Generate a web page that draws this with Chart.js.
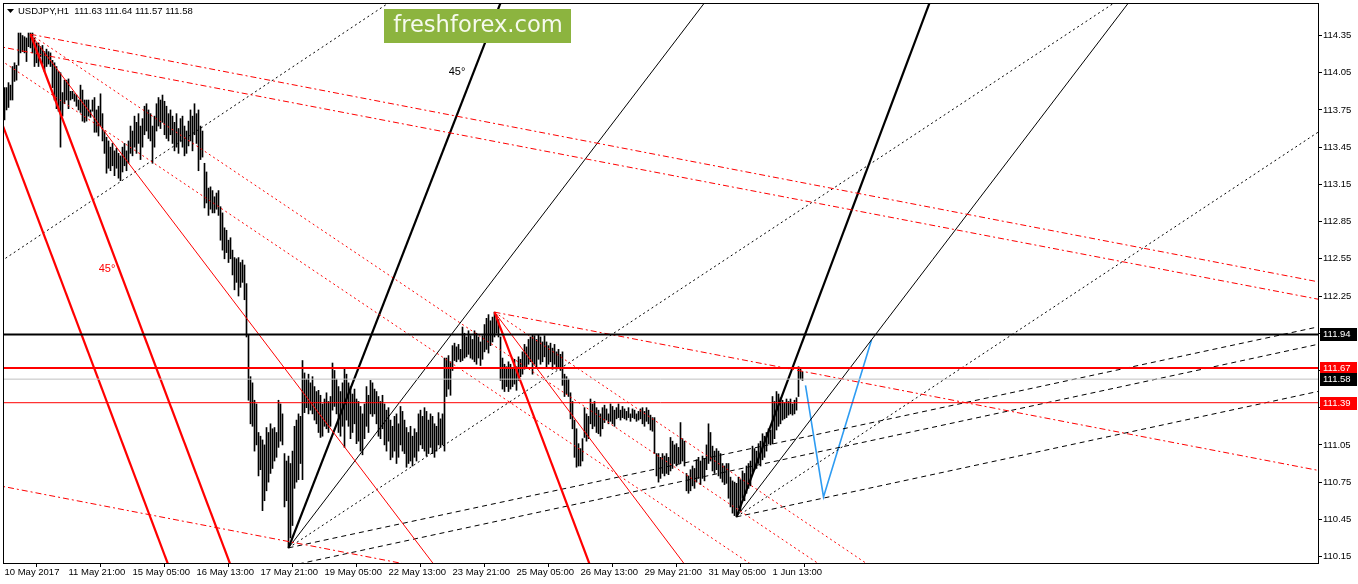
<!DOCTYPE html>
<html>
<head>
<meta charset="utf-8">
<script src="https://cdn.jsdelivr.net/npm/chart.js@4.4.1/dist/chart.umd.min.js"></script>
<style>
  html, body { margin: 0; padding: 0; background: #fff; }
  #wrap { width: 1358px; height: 584px; }
</style>
</head>
<body>
<div id="wrap"><canvas id="chart" width="1358" height="584"></canvas></div>
<script>
// --- DATA (USDJPY H1) ---

const timeTicks = [0, 32, 64, 96, 128, 160, 192, 224, 256, 288, 320, 352, 384];
const timeLabels = ['10 May 2017', '11 May 21:00', '15 May 05:00', '16 May 13:00', '17 May 21:00',
    '19 May 05:00', '22 May 13:00', '23 May 21:00', '25 May 05:00', '26 May 13:00',
    '29 May 21:00', '31 May 05:00', '1 Jun 13:00'];
const priceTicks = [110.15, 110.45, 110.75, 111.05, 111.35, 111.65, 111.95, 112.25,
    112.55, 112.85, 113.15, 113.45, 113.75, 114.05, 114.35];

const barHigh = [
    113.93,113.93,113.97,113.95,114.10,114.13,114.11,114.37,114.37,114.35,
    114.34,114.33,114.37,114.37,114.37,114.33,114.29,114.29,114.26,114.27,
    114.22,114.24,114.22,114.21,114.15,114.13,114.10,114.06,114.05,113.89,
    113.99,113.99,114.00,113.90,113.90,113.88,113.87,113.83,113.95,113.91,
    113.83,113.83,113.83,113.75,113.83,113.85,113.75,113.78,113.88,113.72,
    113.58,113.53,113.50,113.45,113.48,113.42,113.44,113.40,113.38,113.45,
    113.48,113.42,113.50,113.62,113.58,113.70,113.65,113.72,113.62,113.68,
    113.78,113.80,113.75,113.72,113.62,113.70,113.80,113.85,113.83,113.87,
    113.82,113.78,113.72,113.75,113.70,113.65,113.72,113.60,113.68,113.70,
    113.62,113.58,113.66,113.75,113.70,113.80,113.72,113.75,113.62,113.58,
    113.32,113.25,113.12,113.13,113.10,113.05,113.08,113.10,112.97,112.92,
    112.80,112.78,112.70,112.72,112.62,112.56,112.55,112.56,112.52,112.54,
    112.50,112.35,111.94,111.60,111.55,111.41,111.38,111.15,111.12,111.09,
    111.05,111.19,111.15,111.22,111.18,111.19,111.15,111.41,111.38,111.30,
    110.98,110.92,110.96,110.90,111.00,111.20,111.25,111.30,111.28,111.73,
    111.63,111.58,111.62,111.55,111.60,111.52,111.48,111.49,111.45,111.38,
    111.42,111.47,111.40,111.44,111.71,111.65,111.58,111.52,111.48,111.55,
    111.67,111.62,111.55,111.52,111.46,111.50,111.42,111.40,111.36,111.30,
    111.38,111.52,111.45,111.57,111.55,111.50,111.48,111.44,111.40,111.45,
    111.38,111.33,111.35,111.25,111.20,111.28,111.30,111.22,111.36,111.32,
    111.25,111.19,111.15,111.20,111.12,111.18,111.15,111.30,111.33,111.28,
    111.35,111.32,111.25,111.30,111.28,111.22,111.20,111.31,111.26,111.30,
    111.75,111.75,111.77,111.72,111.85,111.87,111.84,111.86,111.82,112.00,
    111.95,111.92,111.97,111.93,111.90,111.97,111.95,111.92,111.88,111.93,
    112.02,112.07,112.10,112.05,112.08,112.12,112.10,112.06,111.92,111.75,
    111.70,111.68,111.72,111.70,111.66,111.74,111.68,111.76,111.74,111.80,
    111.86,111.84,111.90,111.92,111.94,111.93,111.90,111.94,111.92,111.88,
    111.93,111.88,111.85,111.87,111.83,111.86,111.80,111.82,111.78,111.80,
    111.62,111.60,111.58,111.47,111.40,111.25,111.18,111.06,111.02,111.10,
    111.35,111.30,111.28,111.42,111.38,111.40,111.35,111.33,111.30,111.35,
    111.37,111.34,111.30,111.38,111.36,111.33,111.35,111.38,111.33,111.36,
    111.34,111.32,111.35,111.30,111.34,111.33,111.30,111.32,111.34,111.35,
    111.32,111.35,111.33,111.29,111.27,111.27,110.98,110.98,110.95,110.98,
    110.96,110.98,110.95,111.11,111.08,111.05,111.06,111.03,111.23,111.10,
    111.08,110.82,110.80,110.85,110.88,110.86,110.93,110.95,110.92,110.96,
    110.94,111.05,111.22,111.15,111.04,111.00,111.02,111.00,110.98,110.90,
    110.88,110.90,110.90,110.79,110.76,110.75,110.74,110.79,110.77,110.84,
    110.82,110.88,110.90,110.92,111.04,111.02,111.00,111.06,111.08,111.14,
    111.12,111.15,111.18,111.17,111.44,111.40,111.48,111.46,111.43,111.41,
    111.39,111.42,111.40,111.42,111.38,111.41,111.43,111.68,111.67,111.64
];
const barLow = [
    113.67,113.75,113.77,113.83,113.83,113.98,113.99,114.11,114.21,114.22,
    114.21,114.14,114.26,114.25,114.21,114.10,114.13,114.10,114.18,114.12,
    114.06,114.10,114.12,114.10,113.93,113.83,113.76,113.74,113.45,113.70,
    113.80,113.83,113.76,113.83,113.84,113.82,113.78,113.75,113.73,113.66,
    113.65,113.66,113.70,113.69,113.74,113.57,113.57,113.54,113.62,113.50,
    113.40,113.24,113.28,113.26,113.30,113.22,113.28,113.20,113.18,113.25,
    113.30,113.26,113.32,113.40,113.38,113.45,113.40,113.48,113.35,113.45,
    113.55,113.58,113.52,113.50,113.32,113.45,113.58,113.62,113.60,113.65,
    113.55,113.52,113.50,113.55,113.48,113.42,113.45,113.40,113.50,113.45,
    113.38,113.40,113.46,113.50,113.42,113.55,113.48,113.26,113.35,113.37,
    112.96,113.00,112.90,112.95,112.92,112.92,112.95,112.90,112.70,112.62,
    112.55,112.60,112.52,112.55,112.42,112.30,112.36,112.25,112.32,112.36,
    112.22,111.92,111.41,111.22,111.20,111.00,111.05,110.80,110.85,110.52,
    110.60,110.68,110.75,110.82,110.86,110.92,110.95,111.03,111.08,111.05,
    110.55,110.60,110.22,110.30,110.40,110.70,110.75,110.77,110.90,110.77,
    111.31,111.35,111.30,111.33,111.30,111.25,111.22,111.15,111.11,111.12,
    111.20,111.18,111.15,111.20,111.33,111.36,111.30,111.15,111.12,111.20,
    111.03,111.25,111.20,111.10,111.15,111.22,111.06,111.08,111.00,110.97,
    111.10,111.20,111.15,111.30,111.28,111.30,111.22,111.12,111.10,111.18,
    111.05,111.00,111.08,110.93,110.95,111.00,110.90,110.95,111.05,111.00,
    110.98,110.87,110.90,110.92,110.88,110.95,110.92,111.00,111.05,111.02,
    111.00,110.96,110.98,111.03,110.98,110.95,111.00,111.05,111.03,111.05,
    111.00,111.44,111.50,111.45,111.65,111.73,111.72,111.74,111.72,111.73,
    111.75,111.76,111.78,111.75,111.74,111.72,111.70,111.75,111.69,111.74,
    111.80,111.82,111.79,111.85,111.88,111.92,111.95,111.92,111.57,111.50,
    111.48,111.52,111.48,111.50,111.52,111.54,111.49,111.57,111.60,111.62,
    111.66,111.68,111.70,111.72,111.62,111.70,111.68,111.74,111.70,111.72,
    111.76,111.68,111.70,111.72,111.66,111.70,111.66,111.68,111.65,111.53,
    111.44,111.46,111.44,111.26,111.18,110.95,110.87,110.88,110.88,110.92,
    111.11,111.08,111.10,111.22,111.18,111.20,111.15,111.14,111.12,111.18,
    111.23,111.25,111.22,111.24,111.22,111.20,111.26,111.27,111.25,111.27,
    111.26,111.25,111.27,111.24,111.27,111.26,111.24,111.25,111.26,111.22,
    111.20,111.24,111.22,111.17,111.16,110.98,110.80,110.75,110.78,110.82,
    110.80,110.82,110.81,110.84,110.86,110.90,110.88,110.90,110.90,110.92,
    110.88,110.68,110.66,110.68,110.72,110.70,110.75,110.78,110.73,110.78,
    110.76,110.85,110.90,110.92,110.84,110.82,110.85,110.80,110.78,110.75,
    110.73,110.74,110.62,110.55,110.50,110.48,110.47,110.54,110.52,110.62,
    110.60,110.66,110.70,110.72,110.83,110.85,110.86,110.90,110.88,110.93,
    110.95,111.00,111.06,111.05,111.06,111.10,111.17,111.20,111.22,111.25,
    111.26,111.27,111.29,111.30,111.29,111.30,111.33,111.44,111.58,111.57
];

// horizontal levels: [price, colour, width]
const levelPrices = [111.94, 111.67, 111.58, 111.39];
const levelColors = ['#000000', '#ff0000', '#c0c0c0', '#ff0000'];
const levelWidths = [2, 2, 1, 1];

// trend lines as [barIndex, price] pairs
const redThick = [
    [[-12, 114.10], [88.5, 109.80]],
    [[13, 114.36], [119.6, 109.80]],
    [[245, 112.12], [299.3, 109.80]]
];
const redThin = [
    [[13, 114.36], [228.2, 109.80]],
    [[245, 112.12], [353.5, 109.80]]
];
const redDotted = [
    [[13, 114.36], [434, 109.80]],
    [[-12, 114.26], [399.8, 109.80]],
    [[245, 112.12], [458, 109.80]]
];
const redDashDot = [
    [[13, 114.36], [668, 112.33]],
    [[-12, 114.29], [668, 112.19]],
    [[-12, 110.75], [293.5, 109.80]],
    [[245, 112.12], [668, 110.81]]
];
const blackThick = [
    [[142, 110.22], [256.4, 114.96]],
    [[366, 110.47], [470.6, 114.96]]
];
const blackThin = [
    [[142, 110.22], [366.4, 114.96]],
    [[366, 110.47], [578.4, 114.96]]
];
const blackDotted = [
    [[142, 110.22], [587.5, 114.96]],
    [[366, 110.47], [668, 113.69]],
    [[-12, 112.42], [224.4, 114.96]]
];
const blackDashed = [
    [[142, 110.22], [668, 112.04]],
    [[63.5, 109.80], [668, 111.90]],
    [[366, 110.47], [668, 111.52]]
];
const blueForecast = [[400.5, 111.53], [409.5, 110.63], [433.5, 111.895]];

const lastQuote = ['111.63', '111.64', '111.57', '111.58'];

// --- BUILD DATASETS ---

const FONT = '"Liberation Sans", Arial, sans-serif';

function segmentSets(group, color, width, dash) {
    return group.map(seg => ({
        type: 'line',
        data: seg.map(p => ({ x: p[0], y: p[1] })),
        borderColor: color,
        borderWidth: width,
        borderDash: dash,
        pointRadius: 0,
        fill: false,
        tension: 0,
        order: 1
    }));
}

const datasets = [{
    type: 'bar',
    data: barHigh.map((h, i) => ({ x: i, y: [barLow[i], h] })),
    backgroundColor: '#000000',
    borderWidth: 0,
    barThickness: 1,
    order: 10
}];

levelPrices.forEach((p, k) => {
    datasets.push(...segmentSets([[[-12, p], [668, p]]], levelColors[k], levelWidths[k], []));
});
datasets.push(...segmentSets(redThick, '#ff0000', 2.2, []));
datasets.push(...segmentSets(redThin, '#ff0000', 1, []));
datasets.push(...segmentSets(redDotted, '#ff0000', 1, [2, 3]));
datasets.push(...segmentSets(redDashDot, '#ff0000', 1, [6, 3, 2, 3]));
datasets.push(...segmentSets(blackThick, '#000000', 2.2, []));
datasets.push(...segmentSets(blackThin, '#000000', 1, []));
datasets.push(...segmentSets(blackDotted, '#000000', 1, [2, 3]));
datasets.push(...segmentSets(blackDashed, '#000000', 1, [5, 4]));
datasets.push(...segmentSets([blueForecast], '#2e9cf2', 1.6, []));

// --- DECORATION PLUGIN ---

const decorations = {
    id: 'decorations',
    afterDraw(chart) {
        const ctx = chart.ctx;
        const a = chart.chartArea;
        const y = chart.scales.y;
        const x = chart.scales.x;
        ctx.save();

        // frame
        ctx.strokeStyle = '#000';
        ctx.lineWidth = 1;
        ctx.setLineDash([]);
        ctx.strokeRect(a.left + 0.5, a.top + 0.5, a.right - a.left, a.bottom - a.top);

        // symbol line
        ctx.fillStyle = '#000';
        ctx.beginPath();
        ctx.moveTo(7, 9); ctx.lineTo(14, 9); ctx.lineTo(10.5, 13); ctx.closePath();
        ctx.fill();
        ctx.font = '9.5px ' + FONT;
        ctx.textBaseline = 'middle';
        ctx.textAlign = 'left';
        ctx.fillText('USDJPY,H1  ' + lastQuote.join(' '), 18, 11.5);

        // logo
        ctx.fillStyle = '#8cb43f';
        ctx.fillRect(384, 9, 187, 34);
        let size = 26;
        ctx.font = size + 'px "DejaVu Sans", sans-serif';
        size = size * 170 / ctx.measureText('freshforex.com').width;
        ctx.font = size.toFixed(1) + 'px "DejaVu Sans", sans-serif';
        ctx.fillStyle = '#f6faee';
        ctx.textAlign = 'center';
        ctx.fillText('freshforex.com', 478, 26.5);

        // 45 degree marks
        ctx.font = '11px ' + FONT;
        ctx.fillStyle = '#ff0000';
        ctx.fillText('45°', 107, 269);
        ctx.fillStyle = '#000000';
        ctx.fillText('45°', 457, 72);

        // price tags on the axis
        const tagColors = ['#000000', '#ff0000', '#000000', '#ff0000'];
        const tagOrder = [0, 1, 3, 2];
        ctx.font = '9.5px ' + FONT;
        ctx.textAlign = 'left';
        tagOrder.forEach(k => {
            const py = Math.round(y.getPixelForValue(levelPrices[k]));
            ctx.fillStyle = tagColors[k];
            ctx.fillRect(a.right + 2, py - 6, 37, 13);
            ctx.fillStyle = '#ffffff';
            ctx.fillText(levelPrices[k].toFixed(2), a.right + 5, py + 0.5);
        });
        ctx.restore();
    }
};

new Chart(document.getElementById('chart'), {
    type: 'bar',
    data: { datasets },
    options: {
        responsive: false,
        animation: false,
        devicePixelRatio: 1,
        layout: { padding: { left: 3, top: 3, right: 0, bottom: 0 } },
        plugins: { legend: { display: false }, tooltip: { enabled: false } },
        scales: {
            x: {
                type: 'linear',
                min: -0.75,
                max: 656.75,
                offset: false,
                border: { display: false },
                grid: { drawOnChartArea: false, color: '#000', tickLength: 4 },
                afterBuildTicks: s => { s.ticks = timeTicks.map(v => ({ value: v })); },
                afterFit: s => { s.height = 21; s.paddingLeft = 0; s.paddingRight = 0; },
                ticks: {
                    autoSkip: false,
                    maxRotation: 0,
                    minRotation: 0,
                    align: 'start',
                    padding: 0,
                    color: '#000',
                    font: { family: FONT, size: 9.5 },
                    callback: v => timeLabels[timeTicks.indexOf(v)]
                }
            },
            y: {
                type: 'linear',
                position: 'right',
                min: 110.098,
                max: 114.612,
                border: { display: false },
                grid: { drawOnChartArea: false, color: '#000', tickLength: 4 },
                afterBuildTicks: s => { s.ticks = priceTicks.map(v => ({ value: v })); },
                afterFit: s => { s.width = 40; s.paddingTop = 0; s.paddingBottom = 0; },
                ticks: {
                    padding: 1,
                    color: '#000',
                    font: { family: FONT, size: 9.5 },
                    callback: v => v.toFixed(2)
                }
            }
        }
    },
    plugins: [decorations]
});
</script>
</body>
</html>
